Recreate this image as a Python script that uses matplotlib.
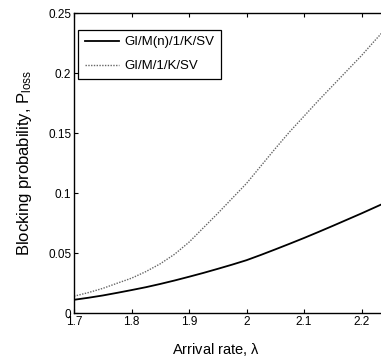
import matplotlib
matplotlib.use("Agg")
import matplotlib.pyplot as plt

plt.rcParams['font.family'] = ['Liberation Sans', 'DejaVu Sans']
plt.rcParams['mathtext.fontset'] = 'custom'
plt.rcParams['mathtext.rm'] = 'Liberation Sans'
plt.rcParams['mathtext.it'] = 'Liberation Sans'

# arrival rate (lambda)
lam = [1.700, 1.725, 1.750, 1.775, 1.800, 1.825, 1.850, 1.875, 1.900, 1.925, 1.950, 1.975,
       2.000, 2.025, 2.050, 2.075, 2.100, 2.125, 2.150, 2.175, 2.200, 2.225, 2.250]
# blocking probability, GI/M(n)/1/K/SV
p_loss_mn = [0.0110, 0.0127, 0.0146, 0.0168, 0.0191, 0.0215, 0.0242, 0.0271, 0.0302, 0.0334,
             0.0368, 0.0403, 0.0440, 0.0484, 0.0530, 0.0577, 0.0625, 0.0675, 0.0726, 0.0778,
             0.0830, 0.0884, 0.0938]
# blocking probability, GI/M/1/K/SV
p_loss_m = [0.0140, 0.0170, 0.0205, 0.0248, 0.0290, 0.0345, 0.0410, 0.0490, 0.0590, 0.0710,
            0.0830, 0.0955, 0.1080, 0.1225, 0.1370, 0.1510, 0.1640, 0.1770, 0.1895, 0.2020,
            0.2145, 0.2280, 0.2410]

xticks = [1.7, 1.8, 1.9, 2.0, 2.1, 2.2]
xticklabels = ['1.7', '1.8', '1.9', '2', '2.1', '2.2']
yticks = [0, 0.05, 0.1, 0.15, 0.2, 0.25]
yticklabels = ['0', '0.05', '0.1', '0.15', '0.2', '0.25']

fig = plt.figure(figsize=(3.81, 3.63), dpi=100)
# the axes runs past the right edge of the figure (cropped like the reference)
ax = fig.add_axes([74 / 381, 50 / 363, 345 / 381, 300 / 363])

ax.plot(lam, p_loss_mn, color='black', lw=1.3, label='GI/M(n)/1/K/SV')
ax.plot(lam, p_loss_m, color='0.4', lw=1.0, linestyle=(0, (1, 1)), label='GI/M/1/K/SV')

ax.set_xlim(1.7, 2.3)
ax.set_ylim(0, 0.25)
ax.set_xticks(xticks)
ax.set_xticklabels(xticklabels)
ax.set_yticks(yticks)
ax.set_yticklabels(yticklabels)
ax.tick_params(direction='in', length=3, width=0.8, labelsize=8.5, top=True, right=True, pad=2)

for s in ax.spines.values():
    s.set_linewidth(1.0)

ax.set_xlabel(r'Arrival rate, $\lambda$', fontsize=10.5)
ax.xaxis.set_label_coords((216 - 74) / 345, -0.095)
ax.set_ylabel(r'Blocking probability, P$_{\mathrm{loss}}$', fontsize=12)
ax.yaxis.set_label_coords(-0.115, 0.5)

leg = ax.legend(loc='upper left', bbox_to_anchor=(0.012, 0.945), fontsize=9.5,
                fancybox=False, framealpha=1, edgecolor='black',
                handlelength=2.6, labelspacing=0.9, borderpad=0.5, handletextpad=0.4,
                borderaxespad=0)
leg.get_frame().set_linewidth(0.9)

fig.savefig('out.png', dpi=100)
